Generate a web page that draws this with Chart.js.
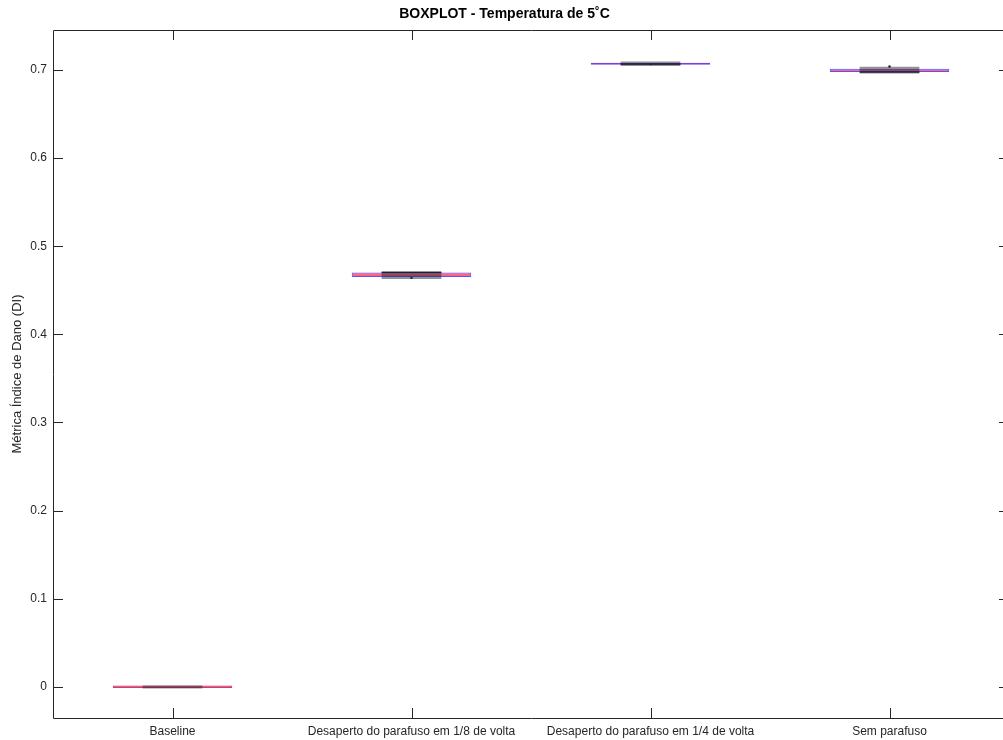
<!DOCTYPE html>
<html>
<head>
<meta charset="utf-8">
<script src="https://cdn.jsdelivr.net/npm/chart.js@4/dist/chart.umd.min.js"></script>
<style>
  html, body { margin: 0; padding: 0; background: #fff; overflow: hidden; }
  #wrap { width: 1062px; height: 740px; }
</style>
</head>
<body>
<div id="wrap"><canvas id="chart" width="1062" height="740"></canvas></div>
<script>
// categories and values
const categories = ["Baseline", "Desaperto do parafuso em 1/8 de volta", "Desaperto do parafuso em 1/4 de volta", "Sem parafuso"];

// wide blue/red box (thin)
const wideLow  = [-0.0015, 0.4650, 0.7060, 0.6977];
const wideHigh = [ 0.0015, 0.4703, 0.7084, 0.7015];

// narrow grey box
const greyLow  = [-0.0020, 0.4629, 0.7045, 0.6962];
const greyHigh = [ 0.0014, 0.4708, 0.7097, 0.7038];

// black median lines and mean dots
const medians = [null, 0.4705, 0.7068, 0.6977];
const means   = [null, 0.4641, 0.7068, 0.7040];

const yTicks = [0, 0.1, 0.2, 0.3, 0.4, 0.5, 0.6, 0.7];
const yMin = -0.0355, yMax = 0.7455;

const axisColor = "#262626";
const font = "'Liberation Sans', Arial, Helvetica, sans-serif";
const wideFill = ["rgba(215,25,80,0.9)", "rgba(255,50,90,0.75)", "rgba(140,30,200,0.9)", "rgba(255,50,90,0.75)"];
const wideEdge = ["rgba(200,40,100,0.9)", "rgba(40,40,255,0.8)", "rgba(110,40,220,0.9)", "rgba(40,40,255,0.8)"];

const pair = (lo, hi) => lo.map((v, i) => [v, hi[i]]);
const medBars = medians.map(m => m === null ? null : [m - 0.0008, m + 0.0008]);

// inward ticks + top/right box lines, like the matlab axes
const boxAxes = {
  id: "boxAxes",
  afterDraw(chart) {
    const { ctx, chartArea: a, scales: { x, y } } = chart;
    ctx.save();
    ctx.strokeStyle = axisColor;
    ctx.lineWidth = 1;
    ctx.beginPath();
    ctx.rect(a.left + 0.5, a.top + 0.5, a.right - a.left, a.bottom - a.top);
    ctx.stroke();
    ctx.beginPath();
    x.ticks.forEach((t, i) => {
      const px = Math.round(x.getPixelForTick(i)) + 0.5;
      ctx.moveTo(px, a.bottom); ctx.lineTo(px, a.bottom - 10);
      ctx.moveTo(px, a.top); ctx.lineTo(px, a.top + 10);
    });
    y.ticks.forEach(t => {
      const py = Math.round(y.getPixelForValue(t.value)) + 0.5;
      ctx.moveTo(a.left, py); ctx.lineTo(a.left + 10, py);
      ctx.moveTo(a.right, py); ctx.lineTo(a.right - 10, py);
    });
    ctx.stroke();
    ctx.restore();
  }
};

new Chart(document.getElementById("chart").getContext("2d"), {
  type: "bar",
  data: {
    labels: categories,
    datasets: [
      { type: "line", data: means, showLine: false, pointRadius: 1.2, pointBackgroundColor: "#222", pointBorderWidth: 0, order: 1 },
      { data: medBars, backgroundColor: "rgba(20,10,30,0.85)", borderWidth: 0, grouped: false, barPercentage: 0.25, categoryPercentage: 1, order: 2 },
      { data: pair(greyLow, greyHigh), backgroundColor: "rgba(40,40,50,0.5)", borderWidth: 0, grouped: false, barPercentage: 0.25, categoryPercentage: 1, order: 3 },
      { data: pair(wideLow, wideHigh), backgroundColor: wideFill, borderColor: wideEdge, borderWidth: 1, borderSkipped: false, grouped: false, barPercentage: 0.5, categoryPercentage: 1, order: 4 }
    ]
  },
  options: {
    responsive: false,
    animation: false,
    devicePixelRatio: 1,
    layout: { padding: { left: 0, right: 53, top: 0, bottom: 0 } },
    plugins: {
      legend: { display: false },
      tooltip: { enabled: false },
      title: {
        display: true,
        text: "BOXPLOT - Temperatura de 5˚C",
        color: "#000",
        font: { family: font, size: 14, weight: "bold", lineHeight: 1.2 },
        padding: { top: 6, bottom: 7.2 }
      }
    },
    scales: {
      x: {
        offset: true,
        grid: { display: false, drawTicks: false },
        border: { display: false },
        ticks: { color: axisColor, font: { family: font, size: 12 }, padding: 6, maxRotation: 0, minRotation: 0, autoSkip: false },
        afterFit(s) { s.height = 22; }
      },
      y: {
        min: yMin, max: yMax,
        afterBuildTicks(s) { s.ticks = yTicks.map(v => ({ value: v })); },
        grid: { display: false, drawTicks: false },
        border: { display: false },
        ticks: { color: axisColor, font: { family: font, size: 12 }, padding: 6, callback: v => String(+v.toFixed(1)) },
        title: { display: true, text: "Métrica Índice de Dano (DI)", color: axisColor, font: { family: font, size: 13 }, padding: { top: 10, bottom: 0 } },
        afterFit(s) { s.width = 53; }
      }
    }
  },
  plugins: [boxAxes]
});
</script>
</body>
</html>
